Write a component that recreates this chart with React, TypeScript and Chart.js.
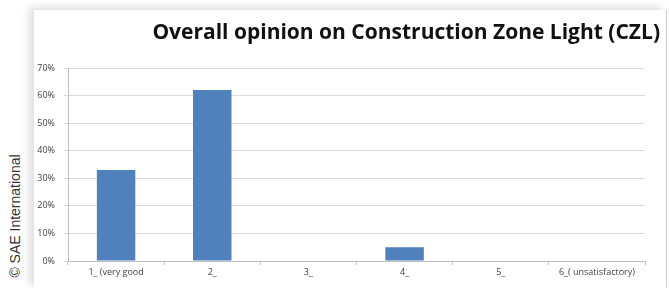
import React, { useEffect, useRef } from "react";
import { Chart, registerables } from "chart.js";

Chart.register(...registerables);

const categories = ["1_ (very good", "2_", "3_", "4_", "5_", "6_( unsatisfactory)"];
const values = [33, 62, 0, 5, 0, 0];
const yTicks = [0, 10, 20, 30, 40, 50, 60, 70];
const titleText = "Overall opinion on Construction Zone Light (CZL)";
const watermark = "© SAE International";

export default function App() {
  const ref = useRef<HTMLCanvasElement | null>(null);

  useEffect(() => {
    if (!ref.current) return;
    const chart = new Chart(ref.current, {
      type: "bar",
      data: {
        labels: categories,
        datasets: [
          {
            data: values,
            backgroundColor: "#4f81bd",
            borderWidth: 0,
            barPercentage: 0.4,
            categoryPercentage: 1,
          },
        ],
      },
      options: {
        animation: false,
        responsive: false,
        maintainAspectRatio: false,
        layout: { padding: { left: 0, right: 21, top: 58, bottom: 5 } },
        plugins: {
          legend: { display: false },
          tooltip: { enabled: false },
          title: { display: false },
        },
        scales: {
          x: {
            grid: {
              offset: true,
              drawOnChartArea: false,
              drawTicks: true,
              tickLength: 4,
              color: "#bfbfbf",
            },
            border: { color: "#bfbfbf" },
            ticks: {
              color: "#404040",
              font: { family: "Open Sans", size: 9 },
              maxRotation: 0,
              autoSkip: false,
              padding: 2,
            },
            afterFit: (s: any) => {
              s.height = 22;
            },
          },
          y: {
            min: 0,
            max: 70,
            afterBuildTicks: (s: any) => {
              s.ticks = yTicks.map((v) => ({ value: v }));
            },
            grid: {
              color: "#d9d9d9",
              drawTicks: true,
              tickLength: 4,
            },
            border: { color: "#bfbfbf" },
            ticks: {
              color: "#404040",
              font: { family: "Open Sans", size: 9 },
              padding: 9,
              callback: (v: any) => v + "%",
            },
            afterFit: (s: any) => {
              s.width = 34;
            },
          },
        },
      },
    });
    return () => chart.destroy();
  }, []);

  return (
    <div
      style={{
        position: "absolute",
        left: 0,
        top: 0,
        width: 669,
        height: 288,
        background: "#ffffff",
        overflow: "hidden",
      }}
    >
      <div
        style={{
          position: "absolute",
          left: 34,
          top: 10,
          width: 632,
          height: 278,
          background: "#ffffff",
          borderRight: "1px solid #d0d0d0",
          boxShadow: "-5px -3px 8px rgba(0,0,0,0.13)",
        }}
      >
        <canvas ref={ref} width={632} height={278} style={{ display: "block" }} />
        <div
          style={{
            position: "absolute",
            right: 6,
            top: 7,
            whiteSpace: "nowrap",
            fontFamily: "Open Sans, sans-serif",
            fontWeight: 700,
            fontSize: 21,
            lineHeight: "28px",
            color: "#111111",
          }}
        >
          {titleText}
        </div>
      </div>
      <div
        style={{
          position: "absolute",
          left: 15,
          top: 216,
          transform: "translate(-50%, -50%) rotate(-90deg)",
          whiteSpace: "nowrap",
          fontFamily: "Liberation Sans, Arial, sans-serif",
          fontSize: 14,
          color: "#333333",
        }}
      >
        {watermark}
      </div>
    </div>
  );
}
